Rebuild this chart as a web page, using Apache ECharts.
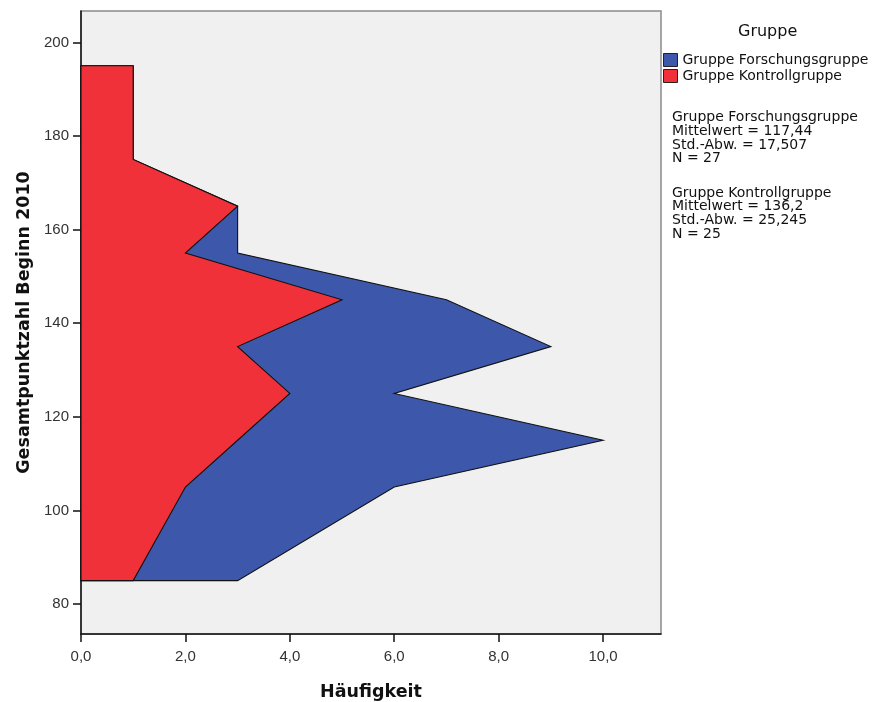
<!DOCTYPE html>
<html>
<head>
<meta charset="utf-8">
<script src="https://cdn.jsdelivr.net/npm/echarts@6/dist/echarts.min.js"></script>
<style>
  html, body { margin: 0; padding: 0; background: #ffffff; }
  #chart { width: 873px; height: 702px; }
</style>
</head>
<body>
<div id="chart"></div>
<script>
// Score class midpoints (vertices of the frequency polygon)
const scores = [85, 105, 115, 125, 135, 145, 155, 165, 175, 195];
// Frequencies per group at each midpoint
const kontrollgruppe = [1, 2, 3, 4, 3, 5, 2, 3, 1, 1];
const forschungsgruppe = [2, 4, 7, 2, 6, 2, 1, 0, 0, 0];

const groupNames = ['Gruppe Forschungsgruppe', 'Gruppe Kontrollgruppe'];
const groupColors = ['#3d58aa', '#f0313a'];

const xTicks = [0, 2, 4, 6, 8, 10];
const yTicks = [80, 100, 120, 140, 160, 180, 200];

const statsForschung = ['Gruppe Forschungsgruppe', 'Mittelwert = 117,44', 'Std.-Abw. = 17,507', 'N = 27'];
const statsKontroll = ['Gruppe Kontrollgruppe', 'Mittelwert = 136,2', 'Std.-Abw. = 25,245', 'N = 25'];

// Stacked outline: Kontrollgruppe at the base, Forschungsgruppe stacked on top
const stackedTotal = scores.map((s, i) => kontrollgruppe[i] + forschungsgruppe[i]);

function polygonSeries(name, color, values) {
  return {
    name: name,
    type: 'custom',
    coordinateSystem: 'cartesian2d',
    itemStyle: { color: color, borderColor: '#000', borderWidth: 1 },
    encode: { x: 0, y: 1 },
    data: scores.map((s, i) => [values[i], s]),
    renderItem: function (params, api) {
      if (params.dataIndex !== 0) return null;
      const pts = [api.coord([0, scores[0]])];
      for (let i = 0; i < scores.length; i++) {
        pts.push(api.coord([values[i], scores[i]]));
      }
      pts.push(api.coord([0, scores[scores.length - 1]]));
      return {
        type: 'polygon',
        shape: { points: pts },
        style: { fill: color, stroke: '#111', lineWidth: 1.1 }
      };
    }
  };
}

const tickFont = { fontFamily: '"Liberation Sans", Arial, sans-serif', fontSize: 15, color: '#333' };
const nameFont = { fontFamily: '"DejaVu Sans", sans-serif', fontSize: 17.5, fontWeight: 'bold', color: '#111' };

const chart = echarts.init(document.getElementById('chart'), null, { renderer: 'canvas' });
chart.setOption({
  animation: false,
  backgroundColor: '#ffffff',
  grid: {
    left: 81, top: 11, width: 580, height: 623,
    outerBoundsMode: 'none',
    containLabel: false,
    show: true, backgroundColor: '#f0f0f0', borderColor: '#8a8a8a', borderWidth: 1.5
  },
  xAxis: {
    type: 'value',
    min: 0, max: 11.11,
    name: 'Häufigkeit',
    nameLocation: 'middle',
    nameGap: 49,
    nameTextStyle: nameFont,
    splitLine: { show: false },
    axisLine: { show: true, onZero: false, lineStyle: { color: '#111', width: 1.5 } },
    axisTick: { show: true, inside: false, length: 8, customValues: xTicks, lineStyle: { color: '#111', width: 1.5 } },
    axisLabel: Object.assign({
      margin: 15,
      customValues: xTicks,
      formatter: v => v.toFixed(1).replace('.', ',')
    }, tickFont)
  },
  yAxis: {
    type: 'value',
    min: 73.6, max: 206.7,
    name: 'Gesamtpunktzahl Beginn 2010',
    nameLocation: 'middle',
    nameGap: 46,
    nameTextStyle: nameFont,
    splitLine: { show: false },
    axisLine: { show: true, onZero: false, lineStyle: { color: '#111', width: 1.5 } },
    axisTick: { show: true, inside: false, length: 8, customValues: yTicks, lineStyle: { color: '#111', width: 1.5 } },
    axisLabel: Object.assign({
      margin: 12,
      customValues: yTicks,
      formatter: v => String(v)
    }, tickFont)
  },
  legend: {
    data: groupNames,
    orient: 'vertical',
    left: 663, top: 53,
    padding: 0,
    itemGap: 2,
    itemWidth: 14, itemHeight: 13,
    icon: 'rect',
    itemStyle: { borderColor: '#222', borderWidth: 1 },
    textStyle: { fontFamily: '"DejaVu Sans", sans-serif', fontSize: 14, color: '#111' }
  },
  graphic: [
    {
      type: 'text', left: 738, top: 24,
      style: { text: 'Gruppe', font: '16px "DejaVu Sans", sans-serif', fill: '#111' }
    },
    {
      type: 'text', left: 672, top: 110.5,
      style: {
        text: statsForschung.join('\n'),
        font: '14px "DejaVu Sans", sans-serif', fill: '#111', lineHeight: 13.7
      }
    },
    {
      type: 'text', left: 672, top: 186,
      style: {
        text: statsKontroll.join('\n'),
        font: '14px "DejaVu Sans", sans-serif', fill: '#111', lineHeight: 13.7
      }
    }
  ],
  series: [
    polygonSeries(groupNames[0], groupColors[0], stackedTotal),
    polygonSeries(groupNames[1], groupColors[1], kontrollgruppe)
  ]
});
</script>
</body>
</html>
